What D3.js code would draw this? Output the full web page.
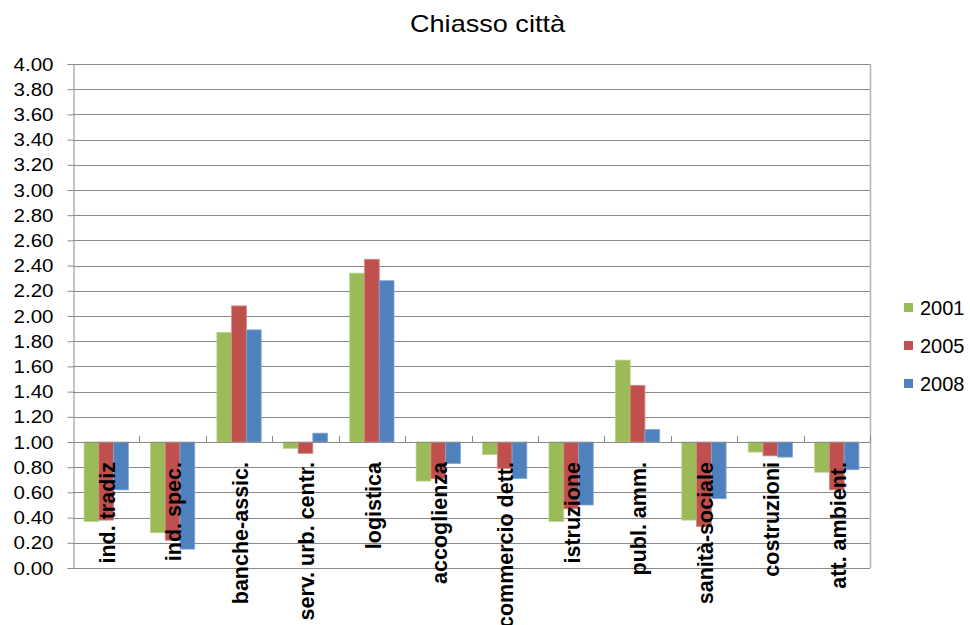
<!DOCTYPE html>
<html>
<head>
<meta charset="utf-8">
<script src="https://cdn.jsdelivr.net/npm/d3@7/dist/d3.min.js"></script>
<style>
html,body{margin:0;padding:0;background:#fff;}
svg{display:block;font-family:"Liberation Sans",Arial,sans-serif;}
</style>
</head>
<body>
<svg id="chart" width="970" height="625"></svg>
<script>
const title = "Chiasso città";
const categories = ["ind. tradiz","ind. spec.","banche-assic.","serv. urb. centr.","logistica","accoglienza","commercio dett.","istruzione","publ. amm.","sanità-sociale","costruzioni","att. ambient."];
const seriesNames = ["2001","2005","2008"];
const values2001 = [0.37,0.28,1.87,0.95,2.34,0.69,0.90,0.37,1.65,0.38,0.92,0.76];
const values2005 = [0.38,0.22,2.08,0.91,2.45,0.71,0.79,0.47,1.45,0.33,0.89,0.62];
const values2008 = [0.62,0.15,1.89,1.07,2.28,0.83,0.71,0.50,1.10,0.55,0.88,0.78];
const yTicks = [0.00,0.20,0.40,0.60,0.80,1.00,1.20,1.40,1.60,1.80,2.00,2.20,2.40,2.60,2.80,3.00,3.20,3.40,3.60,3.80,4.00];
const baseline = 1.00;
const colors = ["#9BBB59","#C0504D","#4F81BD"];
const strokes = ["#b9d08a","#d88886","#84a6d2"];

const seriesValues = [values2001, values2005, values2008];
const svg = d3.select("#chart");
const L = 73, R = 870, T = 64, B = 568;

const y = d3.scaleLinear().domain([0,4]).range([B,T]);
const x0 = d3.scaleBand().domain(categories).range([L,R]).padding(0);
const step = x0.bandwidth();
const x1 = d3.scaleBand().domain(seriesNames).range([step/6, step*5/6]).padding(0);

// gridlines
svg.append("g").selectAll("line").data(yTicks).join("line")
  .attr("x1", L).attr("x2", R)
  .attr("y1", d => Math.round(y(d))+0.5).attr("y2", d => Math.round(y(d))+0.5)
  .attr("stroke", "#8a8a8a").attr("stroke-width", 1);

// right border
svg.append("line").attr("x1", R+0.5).attr("x2", R+0.5).attr("y1", T).attr("y2", B)
  .attr("stroke", "#b4b4b4").attr("stroke-width", 1.5);

// y axis
const yAxis = d3.axisLeft(y).tickValues(yTicks).tickFormat(d3.format(".2f")).tickSize(6).tickPadding(14);
const gy = svg.append("g").attr("transform", `translate(${L+0.5},0)`).call(yAxis);
gy.select(".domain").attr("stroke", "#8a8a8a");
gy.selectAll(".tick line").attr("stroke", "#8a8a8a");
gy.selectAll(".tick text").attr("font-size", "19px").attr("fill", "#000")
  .attr("font-family", "'Liberation Sans',Arial,sans-serif")
  .attr("textLength", 40).attr("lengthAdjust", "spacingAndGlyphs");

// bars
const groups = svg.append("g").selectAll("g").data(categories).join("g")
  .attr("transform", d => `translate(${x0(d)},0)`);
groups.selectAll("rect")
  .data((c, i) => seriesNames.map((s, k) => ({s, k, v: seriesValues[k][i]})))
  .join("rect")
  .attr("x", d => x1(d.s))
  .attr("width", x1.bandwidth())
  .attr("y", d => Math.min(y(d.v), y(baseline)))
  .attr("height", d => Math.abs(y(d.v) - y(baseline)))
  .attr("fill", d => colors[d.k])
  .attr("stroke", d => strokes[d.k]).attr("stroke-width", 0.8);

// category axis at baseline with ticks upward
const xAxis = d3.axisTop(x0).tickSize(0).tickFormat("");
svg.append("g").selectAll("line").data(categories.slice(1).concat([null])).join("line")
  .attr("x1", (d,i) => Math.round(L + step*(i+1))+0.5)
  .attr("x2", (d,i) => Math.round(L + step*(i+1))+0.5)
  .attr("y1", y(baseline)-6).attr("y2", y(baseline))
  .attr("stroke", "#8a8a8a");
svg.append("line").attr("x1", L).attr("x2", R)
  .attr("y1", Math.round(y(baseline))+0.5).attr("y2", Math.round(y(baseline))+0.5)
  .attr("stroke", "#8a8a8a");

// category labels
svg.append("g").selectAll("text").data(categories).join("text")
  .attr("transform", d => `translate(${x0(d)+step/2+1},462) rotate(-90)`)
  .attr("text-anchor", "end")
  .attr("dy", "0.36em")
  .attr("font-size", "21.5px").attr("font-weight", "bold").attr("fill", "#000")
  .text(d => d);

// title
svg.append("text").attr("x", 487.5).attr("y", 32).attr("text-anchor", "middle")
  .attr("font-size", "24px").attr("fill", "#000")
  .attr("textLength", 155).attr("lengthAdjust", "spacingAndGlyphs")
  .text(title);

// legend
const leg = svg.append("g").selectAll("g").data(seriesNames).join("g")
  .attr("transform", (d,i) => `translate(904,${308 + i*38})`);
leg.append("rect").attr("x", 0).attr("y", -5).attr("width", 9).attr("height", 9)
  .attr("fill", (d,i) => colors[i]);
leg.append("text").attr("x", 16).attr("y", 0).attr("dy", "0.36em")
  .attr("font-size", "20px").attr("fill", "#000").text(d => d);
</script>
</body>
</html>
